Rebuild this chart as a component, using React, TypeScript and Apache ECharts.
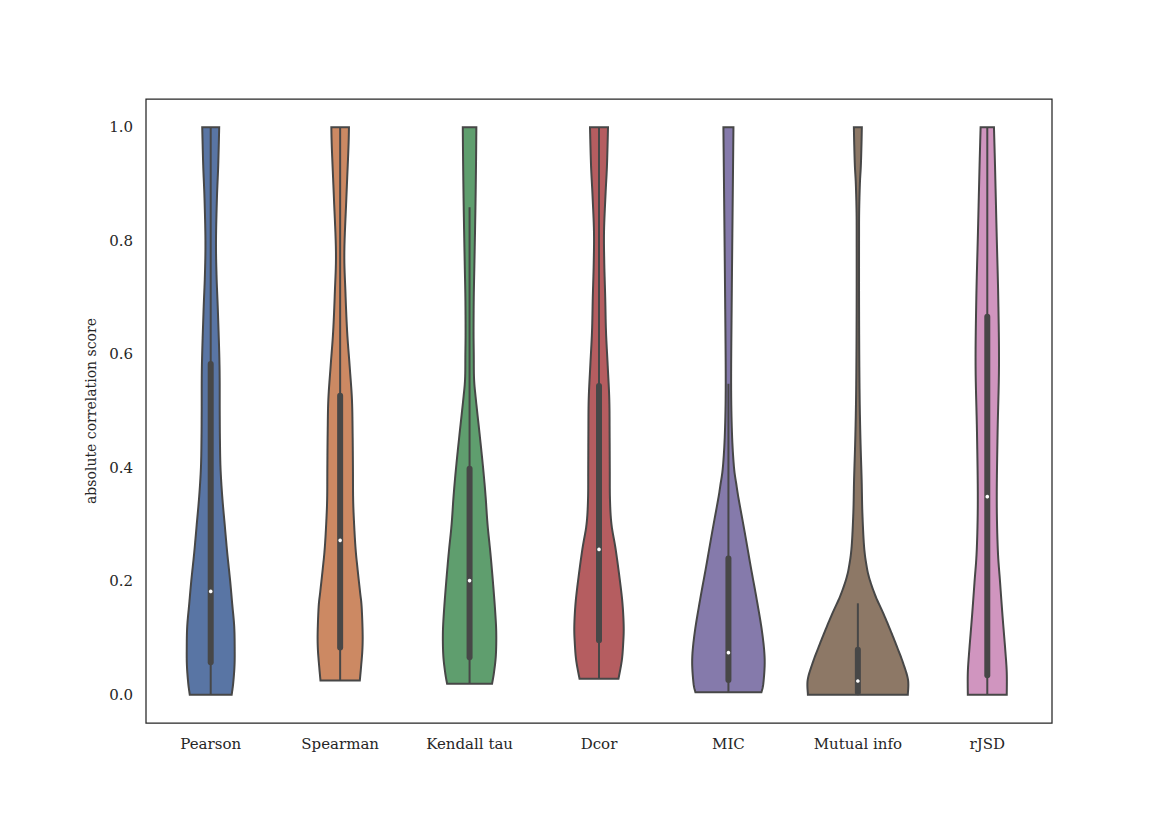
import React, { useEffect, useRef } from "react";
import * as echarts from "echarts";

const categories = ["Pearson", "Spearman", "Kendall tau", "Dcor", "MIC", "Mutual info", "rJSD"];

// violin outlines: [score, relative half-width (1 = widest allowed)]
const pearsonProfile = [
  [0, 0.405], [0.02, 0.434], [0.05, 0.459], [0.08, 0.463], [0.12, 0.454], [0.16, 0.415],
  [0.2, 0.376], [0.25, 0.319], [0.3, 0.27], [0.35, 0.222], [0.4, 0.189], [0.45, 0.178],
  [0.5, 0.174], [0.58, 0.17], [0.675, 0.139], [0.74, 0.112], [0.8, 0.102], [0.875, 0.12],
  [0.933, 0.145], [1.0, 0.164],
];
const spearmanProfile = [
  [0.025, 0.38], [0.05, 0.405], [0.08, 0.43], [0.11, 0.434], [0.155, 0.415], [0.18, 0.386],
  [0.22, 0.338], [0.256, 0.299], [0.3, 0.27], [0.344, 0.251], [0.4, 0.247], [0.46, 0.241],
  [0.52, 0.228], [0.58, 0.183], [0.64, 0.135], [0.71, 0.102], [0.78, 0.081], [0.875, 0.12],
  [0.963, 0.16], [1.0, 0.17],
];
const kendallProfile = [
  [0.019, 0.434], [0.04, 0.473], [0.07, 0.508], [0.11, 0.515], [0.15, 0.492], [0.2, 0.45],
  [0.25, 0.402], [0.3, 0.347], [0.35, 0.309], [0.4, 0.261], [0.46, 0.193], [0.52, 0.122],
  [0.556, 0.087], [0.6, 0.081], [0.64, 0.077], [0.7, 0.081], [0.757, 0.093], [0.82, 0.106],
  [0.875, 0.116], [0.94, 0.125], [1.0, 0.131],
];
const dcorProfile = [
  [0.028, 0.376], [0.06, 0.44], [0.09, 0.467], [0.12, 0.477], [0.16, 0.454], [0.2, 0.405],
  [0.256, 0.322], [0.3, 0.241], [0.344, 0.212], [0.4, 0.208], [0.46, 0.205], [0.52, 0.199],
  [0.58, 0.168], [0.64, 0.135], [0.7, 0.12], [0.76, 0.102], [0.816, 0.097], [0.88, 0.125],
  [0.933, 0.154], [1.0, 0.174],
];
const micProfile = [
  [0.004, 0.637], [0.021, 0.676], [0.062, 0.7], [0.109, 0.652], [0.168, 0.546], [0.226, 0.43],
  [0.286, 0.315], [0.344, 0.199], [0.37, 0.154], [0.402, 0.106], [0.462, 0.068], [0.55, 0.052],
  [0.7, 0.064], [0.875, 0.083], [1.0, 0.097],
];
const mutualInfoProfile = [
  [0, 0.965], [0.026, 0.969], [0.056, 0.873], [0.085, 0.753], [0.115, 0.622], [0.145, 0.483],
  [0.173, 0.344], [0.203, 0.228], [0.226, 0.17], [0.261, 0.12], [0.321, 0.087], [0.379, 0.073],
  [0.45, 0.05], [0.52, 0.035], [0.6, 0.027], [0.7, 0.023], [0.8, 0.023], [0.85, 0.025],
  [0.9, 0.039], [0.933, 0.058], [0.97, 0.07], [1.0, 0.077],
];
const rjsdProfile = [
  [0, 0.376], [0.039, 0.376], [0.079, 0.347], [0.138, 0.295], [0.198, 0.247], [0.256, 0.203],
  [0.344, 0.183], [0.462, 0.199], [0.58, 0.226], [0.698, 0.212], [0.816, 0.18], [0.933, 0.149],
  [1.0, 0.129],
];
const profiles = [pearsonProfile, spearmanProfile, kendallProfile, dcorProfile, micProfile, mutualInfoProfile, rjsdProfile];

// inner box statistics
const whiskerLow = [0, 0.025, 0.019, 0.028, 0.004, 0, 0];
const q1 = [0.057, 0.083, 0.066, 0.096, 0.026, 0.004, 0.034];
const median = [0.182, 0.272, 0.201, 0.256, 0.074, 0.024, 0.349];
const q3 = [0.583, 0.527, 0.398, 0.544, 0.24, 0.079, 0.666];
const whiskerHigh = [1.0, 1.0, 0.859, 1.0, 0.548, 0.161, 1.0];

const yTicks = [0, 0.2, 0.4, 0.6, 0.8, 1.0];
const colors = ["#5975a4", "#cc8963", "#5f9e6e", "#b55d60", "#857aab", "#8d7866", "#d095bf"];

const FONT = "DejaVu Serif";
const EDGE = "#474747";

function smoothSide(pts: number[][]): number[][] {
  const out: number[][] = [];
  const n = pts.length;
  for (let i = 0; i < n - 1; i++) {
    const p0 = pts[Math.max(i - 1, 0)];
    const p1 = pts[i];
    const p2 = pts[i + 1];
    const p3 = pts[Math.min(i + 2, n - 1)];
    const steps = 8;
    for (let s = 0; s < steps; s++) {
      const t = s / steps;
      const t2 = t * t;
      const t3 = t2 * t;
      const f = (a: number, b: number, c: number, d: number) =>
        0.5 * (2 * b + (-a + c) * t + (2 * a - 5 * b + 4 * c - d) * t2 + (-a + 3 * b - 3 * c + d) * t3);
      out.push([f(p0[0], p1[0], p2[0], p3[0]), f(p0[1], p1[1], p2[1], p3[1])]);
    }
  }
  out.push(pts[n - 1]);
  return out;
}

export default function App() {
  const ref = useRef<HTMLDivElement>(null);
  useEffect(() => {
    document.body.style.margin = "0";
    if (!ref.current) return;
    const chart = echarts.init(ref.current, undefined, { renderer: "svg" });
    const data = categories.map((_, i) => [i, whiskerLow[i], q1[i], median[i], q3[i], whiskerHigh[i]]);
    const option: any = {
      animation: false,
      backgroundColor: "#ffffff",
      grid: {
        left: 146,
        right: 117,
        top: 99,
        bottom: 104,
        show: true,
        borderColor: "#262626",
        borderWidth: 1.25,
        backgroundColor: "transparent",
      },
      xAxis: {
        type: "category",
        data: categories,
        axisLine: { show: false },
        axisTick: { show: false },
        splitLine: { show: false },
        axisLabel: { color: "#262626", fontFamily: FONT, fontSize: 15, margin: 13 },
      },
      yAxis: {
        type: "value",
        min: -0.05,
        max: 1.05,
        name: "absolute correlation score",
        nameLocation: "middle",
        nameGap: 46,
        nameTextStyle: { color: "#262626", fontFamily: FONT, fontSize: 14 },
        axisLine: { show: false },
        axisTick: { show: false },
        splitLine: { show: false },
        axisLabel: {
          customValues: yTicks,
          formatter: (v: number) => v.toFixed(1),
          color: "#262626",
          fontFamily: FONT,
          fontSize: 15,
          margin: 13,
        },
      },
      series: [
        {
          type: "custom",
          data,
          encode: { x: 0, y: [1, 2, 3, 4, 5] },
          renderItem: (params: any, api: any) => {
            const i = api.value(0);
            const cx = api.coord([i, 0])[0];
            const band = api.size([1, 0])[0];
            const maxHalf = band * 0.4;
            const prof = profiles[i];
            const right = prof.map(([v, w]) => [cx + w * maxHalf, api.coord([i, v])[1]]);
            const left = prof.map(([v, w]) => [cx - w * maxHalf, api.coord([i, v])[1]]);
            const pts = smoothSide(right).concat(smoothSide(left).reverse());
            const yWl = api.coord([i, api.value(1)])[1];
            const yQ1 = api.coord([i, api.value(2)])[1];
            const yMed = api.coord([i, api.value(3)])[1];
            const yQ3 = api.coord([i, api.value(4)])[1];
            const yWh = api.coord([i, api.value(5)])[1];
            return {
              type: "group",
              children: [
                {
                  type: "polygon",
                  shape: { points: pts },
                  style: { fill: colors[i], stroke: EDGE, lineWidth: 2, lineJoin: "miter" },
                },
                {
                  type: "line",
                  shape: { x1: cx, y1: yWl, x2: cx, y2: yWh },
                  style: { stroke: EDGE, lineWidth: 2 },
                },
                {
                  type: "line",
                  shape: { x1: cx, y1: yQ1, x2: cx, y2: yQ3 },
                  style: { stroke: EDGE, lineWidth: 6, lineCap: "round" },
                },
                {
                  type: "circle",
                  shape: { cx, cy: yMed, r: 1.8 },
                  style: { fill: "#ffffff", stroke: "none" },
                },
              ],
            };
          },
        },
      ],
    };
    chart.setOption(option);
    return () => chart.dispose();
  }, []);
  return <div ref={ref} style={{ width: 1169, height: 827 }} />;
}
